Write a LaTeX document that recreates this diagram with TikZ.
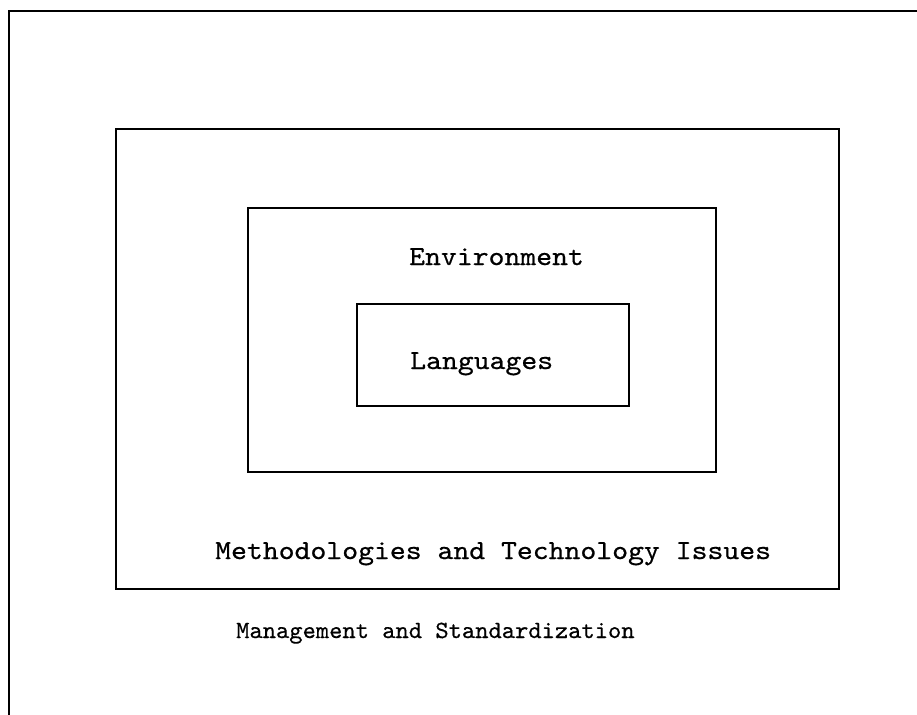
\documentclass[tikz,border=0pt]{standalone}
\usepackage{fontspec}
\newfontfamily\tw{lmmono10-regular.otf}[FakeBold=0.6,FakeStretch=1.1]
\newfontfamily\twe{lmmono10-regular.otf}[FakeBold=0.5,FakeStretch=1.02]
\begin{document}
\begin{tikzpicture}[x=1pt,y=-1pt,
  frame/.style={draw=black,line width=2.3pt,line join=miter},
  boxnode/.style={frame,inner sep=0pt,anchor=north west},
  lbl/.style={anchor=base west,inner sep=0pt,font=\tw\fontsize{27.5}{30}\selectfont},
  lblsmall/.style={anchor=base west,inner sep=0pt,font=\twe\fontsize{24.8}{28}\selectfont}]
\useasboundingbox (0,0) rectangle (917,714);
% outer frame (clipped at right and bottom)
\coordinate (o1) at (9,730);
\coordinate (o2) at (9,11);
\coordinate (o3) at (930,11);
\draw[frame] (o1) -- (o2) -- (o3);
% nested boxes
\node[boxnode,minimum width=723pt,minimum height=460pt] (meth) at (115,128) {};
\node[boxnode,minimum width=468pt,minimum height=264pt] (env) at (247,207) {};
\node[boxnode,minimum width=272pt,minimum height=102pt] (lang) at (356,303) {};
% labels
\node[lbl] (tenv) at (409,265) {Environment};
\node[lbl] (tlang) at (410,369) {Languages};
\node[lbl] (tmeth) at (215,559) {Methodologies and Technology Issues};
\node[lblsmall] (tman) at (236,638) {Management and Standardization};
\end{tikzpicture}
\end{document}
